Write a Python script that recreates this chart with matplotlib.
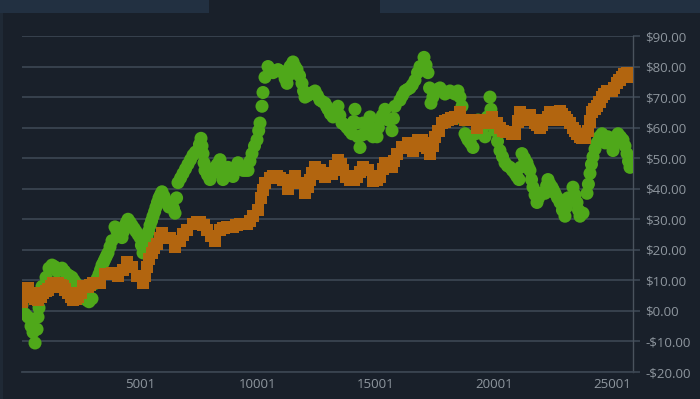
import matplotlib
matplotlib.use("Agg")
import matplotlib.pyplot as plt
from matplotlib.patches import Rectangle
from matplotlib.ticker import FuncFormatter, FixedLocator

# ---- data ----
green_x = [1, 128, 255, 382, 467, 552, 637, 721, 848, 1018, 1145, 1272, 1484, 1696, 1907,
           2119, 2289, 2458, 2670, 2840, 2967, 3094, 3263, 3391, 3518, 3645, 3814, 3941, 4111,
           4238, 4365, 4492, 4662, 4831, 5001, 5128, 5297, 5424, 5552, 5679, 5806, 5933, 6102,
           6229, 6356, 6484, 6611, 6823, 7034, 7246, 7458, 7585, 7670, 7754, 7966, 8178, 8390,
           8517, 8729, 8941, 9153, 9365, 9577, 9746, 9958, 10085, 10170, 10212, 10297, 10424,
           10636, 10848, 11060, 11229, 11357, 11484, 11653, 11865, 11992, 12204, 12416, 12627,
           12839, 12966, 13178, 13390, 13559, 13771, 13983, 14110, 14237, 14322, 14449, 14618,
           14746, 14873, 15042, 15169, 15381, 15508, 15678, 15805, 16017, 16229, 16441, 16652,
           16864, 17034, 17203, 17330, 17500, 17712, 17923, 18135, 18347, 18474, 18644, 18771,
           18898, 19110, 19322, 19534, 19619, 19830, 19915, 20042, 20254, 20466, 20678, 20890,
           21059, 21186, 21398, 21525, 21652, 21822, 21949, 22161, 22288, 22458, 22585, 22797,
           23008, 23136, 23347, 23517, 23644, 23771, 23941, 24068, 24195, 24365, 24577, 24704,
           24831, 25043, 25255, 25467, 25636, 25763,
           # further readings
           679, 763, 5212, 6550, 7628, 7712, 8450, 9852, 10030, 11290, 11760, 14050, 14170,
           14390, 14680, 14810, 15100, 15270, 15740, 16760, 17120, 17270, 18710, 19220, 19720,
           19870, 20150, 21120, 21590, 22900, 23070, 23430, 23580, 24000, 24130, 24280, 24470,
           25150, 25550, 25700,
           1380, 1590, 1800, 2010, 2200, 2370, 2560, 2750,
           3180, 3330, 3460, 3580, 3730, 4030, 4180, 4300, 4430, 4580, 4750, 4920, 5060,
           5360, 5490, 5620, 5740, 5870, 6020, 6170, 6290, 6420,
           6720, 6930, 7140, 7350, 7520,
           7860, 8070, 8280, 8620, 8830, 9050, 9260, 9470, 9660,
           10530, 10740, 10950, 11150, 11420, 11570, 11930, 12100, 12310, 12520, 12730, 12900,
           13070, 13280, 13470, 13660, 13880,
           16120, 16330, 16540,
           17410, 17600, 17820, 18030, 18240, 18410, 18560, 18840, 19000,
           20360, 20570, 20780, 20970, 21290, 21460, 21740, 21890, 22060, 22230, 22370, 22520,
           22690, 24640, 24770, 24940, 25360]
green_y = [2, -1, -2, -5, -7, -10.5, -6, 1, 8, 11, 14, 15, 13, 14, 12,
           11, 9, 6, 4, 3, 4, 9, 12, 15, 17, 19, 23, 27.5, 25,
           24, 28, 30, 28, 26, 24, 19, 24, 28, 31, 34, 37, 39, 36,
           34, 35, 32, 42, 45, 48, 51, 52.5, 56.5, 51.5, 46, 43, 47, 49.5,
           43, 47, 44, 48.5, 46, 46, 51.5, 56, 61.5, 67, 71.5, 76.5, 80,
           78, 79, 78, 74.5, 80, 81.5, 79, 74.5, 70, 71, 72, 69,
           68, 66, 63.5, 67, 61.5, 60, 58, 66, 57, 53.5, 61.5, 58,
           63.5, 57, 57, 62.5, 66, 62.5, 59, 67, 69, 72, 73, 75.5,
           80, 83, 78, 68, 72, 73, 71, 72, 71, 72, 67, 58,
           56, 53.5, 62.5, 60, 57, 70, 61.5, 59, 52.5, 48.5, 47, 45,
           43, 51.5, 48.5, 46, 40.5, 35.5, 38.5, 38.5, 43, 40.5, 38.5, 35.5,
           31, 37, 40.5, 35.5, 31, 32, 38.5, 45, 50.5, 55, 58, 55,
           57, 52.5, 58, 56, 51.5, 47,
           -2, 4.5, 21.5, 37, 54, 48.5, 46, 54, 59, 77, 77, 62, 61.5,
           57.5, 61, 60, 60, 64, 63, 78, 80.5, 73, 62.5, 58, 63.5,
           66, 55.5, 47, 43, 33, 34, 38, 33, 41.5, 48, 53, 57,
           55, 54, 49,
           14.5, 13.5, 13, 11.5, 10, 7.5, 5, 3.5,
           10.5, 13.5, 16, 18, 21, 26, 24.5, 26, 29, 29, 27, 25, 21.5,
           26, 29.5, 32.5, 35.5, 38, 37.5, 35, 34.5, 33.5,
           43.5, 46.5, 49.5, 52, 54.5,
           44.5, 45, 48, 45, 45.5, 46, 47, 46, 49,
           79, 78.5, 78.5, 76, 80.5, 80, 72, 70.5, 71.5, 70.5, 68.5, 67,
           64.5, 65, 64, 61, 59,
           70.5, 72.5, 74,
           70, 72.5, 72, 71.5, 71.5, 71.5, 70, 57, 55,
           50.5, 47.5, 46, 44, 50, 47, 38, 37, 38.5, 41, 41.5, 39.5,
           37, 56.5, 56, 55, 57]

orange_x = [1, 128, 255, 467, 679, 891, 1103, 1314, 1526, 1738, 1950, 2162, 2374, 2586, 2797,
            3009, 3306, 3518, 3814, 4069, 4280, 4450, 4662, 4874, 5128, 5297, 5509, 5721, 5933,
            6145, 6272, 6484, 6695, 6992, 7246, 7543, 7839, 8178, 8390, 8687, 8941, 9238, 9534,
            9788, 10000, 10128, 10297, 10509, 10805, 11060, 11272, 11568, 11780, 11992, 12204,
            12416, 12627, 12839, 13136, 13390, 13602, 13898, 14195, 14449, 14661, 14873, 15169,
            15381, 15678, 15890, 16102, 16356, 16568, 16780, 17076, 17288, 17500, 17797, 18051,
            18347, 18559, 18771, 19067, 19279, 19491, 19703, 19915, 20127, 20381, 20678, 20890,
            21102, 21313, 21525, 21737, 21949, 22161, 22373, 22585, 22797, 23008, 23220, 23432,
            23644, 23856, 23983, 24153, 24365, 24577, 24789, 25000, 25212, 25424, 25636, 25805,
            # further readings
            5210, 5400, 5610, 5830, 10210, 12100, 12310, 13260, 13500, 13750, 14050, 15030,
            15280, 15530, 15780, 16670, 16930, 17180, 17400, 17650, 21000, 24070, 24260, 24470,
            24680, 24900, 25100, 25320, 25530, 25720, 3150, 3660, 3940, 6840, 7400, 7690, 8000,
            8540, 9090, 9390, 9660, 10650, 10930, 11420, 14320, 17920, 18200, 18920, 20530,
            20250, 20780, 21200, 21420, 21630, 21840, 22050, 22270, 22480, 22690, 22900, 23110,
            23330, 23540, 23750,
            360, 570, 790, 1000, 1210, 1420, 1630, 1840, 2060, 2270, 2480, 2690, 2900]
orange_y = [3, 5, 7.5, 4.5, 3.5, 6, 7, 9, 9, 8, 6, 3.6, 4.5, 8, 8,
            9, 9, 12, 12.5, 11.5, 13.5, 16, 14.5, 11.5, 9, 14.5, 19, 22, 25.5,
            24, 24, 21, 23, 26.5, 28.5, 29, 26.5, 23, 26.5, 27.5, 27.5, 28.5, 28.5,
            31, 33, 37, 42, 43.5, 44, 43, 40, 44, 42, 38.5, 43,
            47, 46, 44, 45, 49.5, 46, 43, 44, 47, 46, 42.5, 44,
            48.5, 47, 51.5, 53.5, 55, 52.5, 56, 55, 51.5, 57, 61.5, 62.5,
            63.5, 65, 62.5, 62.5, 60, 62.5, 61.5, 63.5, 61.5, 59, 58.5, 58,
            65, 62.5, 64, 61.5, 60, 62.5, 65, 62.5, 65.5, 63.5, 61.5, 59,
            57, 56.5, 59, 65, 67, 70, 72, 72, 74.5, 76.5, 78, 76.5,
            11.5, 17, 20.5, 24, 39.5, 40.5, 45, 47.5, 48, 44, 43, 43,
            46.5, 48, 49, 54, 56, 53.5, 54, 59, 62, 62, 66, 68.5,
            71, 72, 73, 75.5, 77.5, 77.5, 9, 12, 12, 25, 29, 28, 24.5,
            27, 28, 28.5, 29.5, 44, 43.5, 42, 45.5, 62, 63, 62.5, 58.5,
            60, 58, 63.5, 63, 62.5, 61, 61, 63.5, 64, 64, 64.5, 62.5,
            60, 58, 56.5,
            6, 4, 4.5, 6.5, 8, 9, 8.5, 7, 4.5, 4, 6, 8, 8.5]

x_ticks = [5001, 10001, 15001, 20001, 25001]
y_ticks = [-20, -10, 0, 10, 20, 30, 40, 50, 60, 70, 80, 90]

# ---- style ----
BG = "#19202a"
STRIP = "#223041"
GRID = "#3a4450"
TXT = "#8e969e"
GREEN = "#4fa81a"
ORANGE = "#b2650f"

plt.rcParams["font.family"] = ["Open Sans", "DejaVu Sans"]

W, H = 700, 399
fig = plt.figure(figsize=(W / 100, H / 100), dpi=100, facecolor=BG)

# top strip with dark tab, left edge strip
fig.patches.append(Rectangle((0, 1 - 13 / H), 209 / W, 13 / H, transform=fig.transFigure,
                             facecolor=STRIP, edgecolor="none", zorder=0))
fig.patches.append(Rectangle((380 / W, 1 - 13 / H), 320 / W, 13 / H, transform=fig.transFigure,
                             facecolor=STRIP, edgecolor="none", zorder=0))
fig.patches.append(Rectangle((0, 0), 3 / W, 1 - 13 / H, transform=fig.transFigure,
                             facecolor="#1f2935", edgecolor="none", zorder=0))

left, right, top, bottom = 22, 633, 36, 372
ax = fig.add_axes([left / W, (H - bottom) / H, (right - left) / W, (bottom - top) / H])
ax.set_facecolor(BG)

ax.scatter(green_x, green_y, s=88, marker="o", color=GREEN, edgecolors="none", zorder=3)
ax.scatter(orange_x, orange_y, s=76, marker="s", color=ORANGE, edgecolors="none", zorder=4)

ax.set_xlim(0, 25890)
ax.set_ylim(-20, 90)

ax.yaxis.tick_right()
ax.yaxis.set_major_locator(FixedLocator(y_ticks))
ax.xaxis.set_major_locator(FixedLocator(x_ticks))
ax.yaxis.set_major_formatter(FuncFormatter(lambda v, p: f"-${abs(v):.2f}" if v < 0 else f"${v:.2f}"))
ax.xaxis.set_major_formatter(FuncFormatter(lambda v, p: f"{int(v)}"))

ax.grid(axis="y", color=GRID, linewidth=1.3, zorder=1)
ax.set_axisbelow(True)
for s in ["left", "top"]:
    ax.spines[s].set_visible(False)
ax.spines["right"].set_color("#4a535d")
ax.spines["right"].set_linewidth(1.0)
ax.spines["bottom"].set_color(GRID)
ax.spines["bottom"].set_linewidth(1.3)

ax.tick_params(axis="y", colors=GRID, labelcolor=TXT, length=5, width=1.3, pad=4, labelsize=9.5)
ax.tick_params(axis="x", colors=GRID, labelcolor=TXT, length=0, pad=4, labelsize=9.5)

fig.savefig("out.png", dpi=100, facecolor=BG)
